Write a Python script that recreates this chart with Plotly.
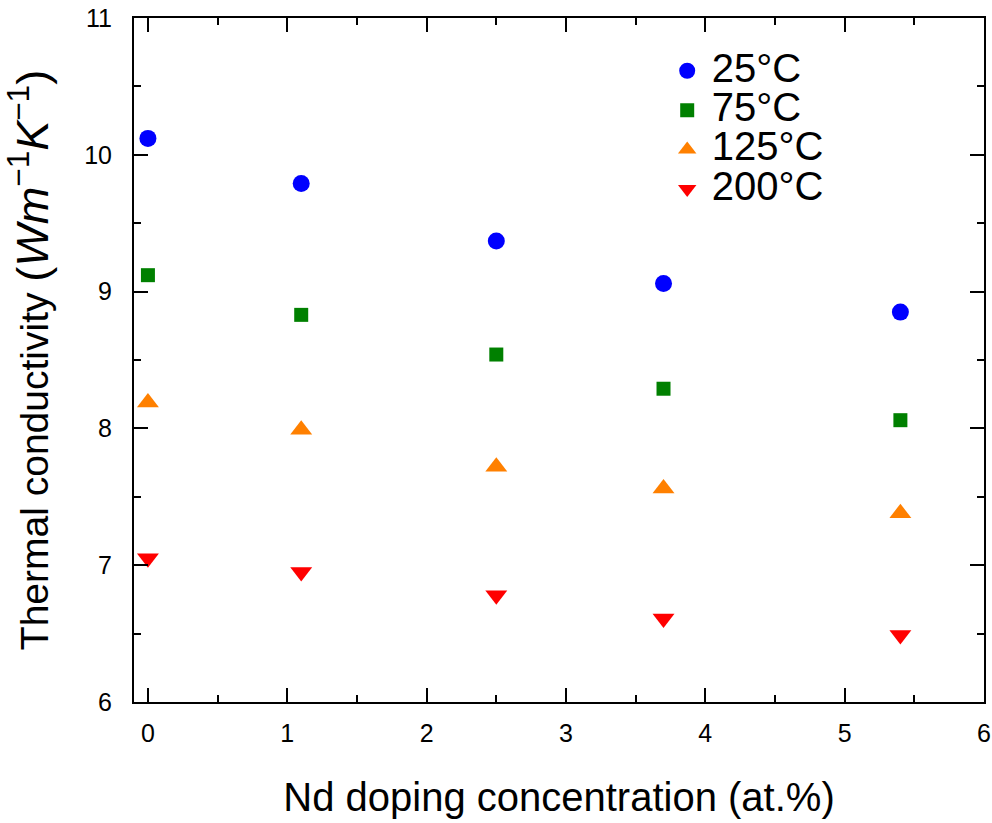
import plotly.graph_objects as go

# Data
nd_conc = [0.0, 1.1, 2.5, 3.7, 5.4]
k_25C = [10.12, 9.79, 9.37, 9.06, 8.85]
k_75C = [9.12, 8.83, 8.54, 8.29, 8.06]
k_125C = [8.19, 7.99, 7.72, 7.56, 7.38]
k_200C = [7.05, 6.95, 6.78, 6.61, 6.49]

series_names = ["25°C", "75°C", "125°C", "200°C"]
series_values = [k_25C, k_75C, k_125C, k_200C]
series_colors = ["#0000ff", "#008000", "#ff8000", "#ff0000"]
series_symbols = ["circle", "square", "triangle-up", "triangle-down"]
series_sizes = [17, 14, 19, 19]

x_ticks = [0, 1, 2, 3, 4, 5, 6]
y_ticks = [6, 7, 8, 9, 10, 11]

FONT = "Arial, 'Liberation Sans', sans-serif"

fig = go.Figure()
for name, vals, col, sym, sz in zip(series_names, series_values, series_colors, series_symbols, series_sizes):
    fig.add_trace(go.Scatter(
        x=nd_conc, y=vals, mode="markers", name=f'<span style="font-size:40px">{name}</span>',
        marker=dict(color=col, symbol=sym, size=sz, line=dict(width=0)),
    ))

axis_common = dict(
    showline=True, linecolor="black", linewidth=2, mirror="ticks",
    ticks="inside", ticklen=14, tickwidth=2, tickcolor="black",
    showgrid=False, zeroline=False, automargin=False,
    tickfont=dict(family=FONT, size=25, color="black"),
)

fig.update_xaxes(
    range=[-0.1, 6], tickvals=x_ticks,
    minor=dict(dtick=0.5, ticks="inside", ticklen=7, tickwidth=2, tickcolor="black", showgrid=False),
    title=dict(text="Nd doping concentration (at.%)", font=dict(family=FONT, size=40, color="black"), standoff=37),
    ticklabelstandoff=8,
    **axis_common,
)
fig.update_yaxes(
    range=[6, 11], tickvals=y_ticks,
    minor=dict(dtick=0.5, ticks="inside", ticklen=7, tickwidth=2, tickcolor="black", showgrid=False),
    title=dict(text='Thermal conductivity <span style="font-size:45px">(<i>Wm</i><sup>−1</sup><i>K</i><sup>−1</sup>)</span>',
               font=dict(family=FONT, size=39, color="black"), standoff=26),
    ticklabelstandoff=15,
    **axis_common,
)

fig.update_layout(
    width=992, height=823,
    margin=dict(l=134, r=8, t=18, b=121),
    paper_bgcolor="white", plot_bgcolor="white",
    font=dict(family=FONT, color="black"),
    showlegend=True,
    legend=dict(
        x=0.622, y=0.959, xanchor="left", yanchor="top",
        bgcolor="rgba(0,0,0,0)", borderwidth=0,
        font=dict(family=FONT, size=28, color="black"),
        itemwidth=39,
    ),
)

fig.write_html("out.html")
